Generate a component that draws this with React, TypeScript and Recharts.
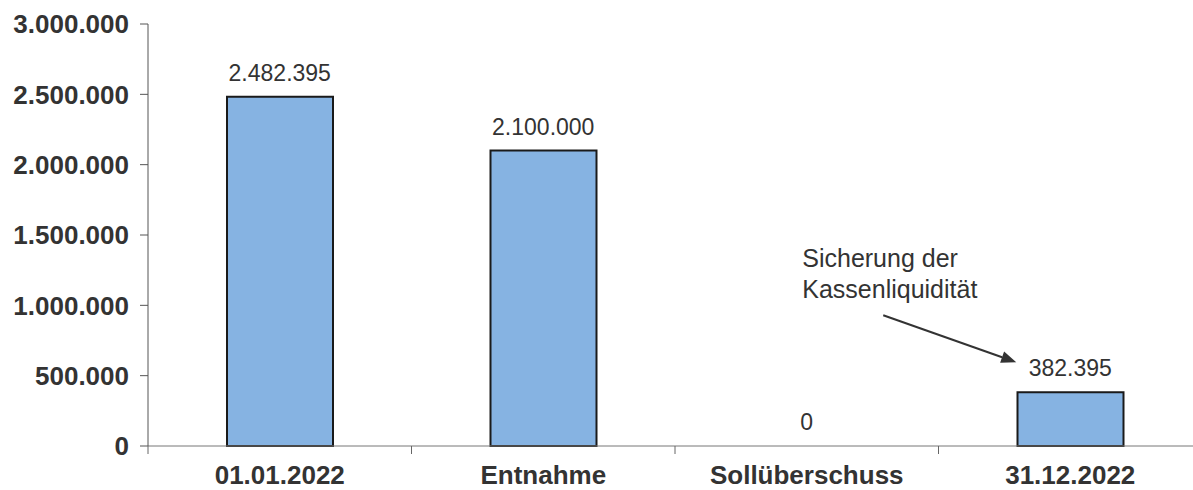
import { Bar, ComposedChart, LabelList, Line, XAxis, YAxis } from 'recharts'

const categories = ['01.01.2022', 'Entnahme', 'Sollüberschuss', '31.12.2022']
const amounts = [2482395, 2100000, 0, 382395]
const yTicks = [0, 500000, 1000000, 1500000, 2000000, 2500000, 3000000]
const noteLines = ['Sicherung der', 'Kassenliquidität']

const data = categories.map((name, i) => ({ name, value: amounts[i], idx: i + 1 }))

const CHART_W = 1202
const CHART_H = 490
const Y_AXIS_W = 148
const BAR_W = 106
const BAND = (CHART_W - Y_AXIS_W) / categories.length
const FONT = '"Liberation Sans", Arial, sans-serif'

function formatDe(v: number): string {
  return String(Math.round(v)).replace(/\B(?=(\d{3})+(?!\d))/g, '.')
}

function CategoryTick(props: any) {
  const { x, y, payload } = props
  return (
    <g>
      <line x1={x - BAND / 2} y1={y - 8} x2={x - BAND / 2} y2={y} stroke="#666" strokeWidth={1} />
      <text
        x={x}
        y={y + 30}
        textAnchor="middle"
        fontFamily={FONT}
        fontWeight="bold"
        fontSize={26}
        fill="#333"
      >
        {payload.value}
      </text>
    </g>
  )
}

// labels hang off an invisible line so the zero bar gets one too
function ValueLabel(props: any) {
  const { x, y, value } = props
  const i = Number(value) - 1
  const label = (
    <text x={x} y={y - 16} textAnchor="middle" fontFamily={FONT} fontSize={23} fill="#333">
      {formatDe(amounts[i])}
    </text>
  )
  if (i !== categories.length - 1) return label

  const left = x - BAR_W / 2
  const tip = { x: left - 1, y: y - 30 }
  const start = { x: left - 134, y: y - 77 }
  const dx = tip.x - start.x
  const dy = tip.y - start.y
  const len = Math.sqrt(dx * dx + dy * dy)
  const ux = dx / len
  const uy = dy / len
  const bx = tip.x - 15 * ux
  const by = tip.y - 15 * uy
  const head = `${tip.x},${tip.y} ${bx - 6 * uy},${by + 6 * ux} ${bx + 6 * uy},${by - 6 * ux}`
  return (
    <g>
      {label}
      <line x1={start.x} y1={start.y} x2={bx} y2={by} stroke="#333" strokeWidth={2} />
      <polygon points={head} fill="#333" />
      {noteLines.map((t, k) => (
        <text key={t} x={left - 215} y={y - 125 + k * 31} fontFamily={FONT} fontSize={25} fill="#333">
          {t}
        </text>
      ))}
    </g>
  )
}

export default function App() {
  return (
    <div
      style={{
        position: 'fixed',
        left: 0,
        top: 0,
        width: 1193,
        height: 490,
        overflow: 'hidden',
        background: '#fff',
      }}
    >
      <ComposedChart
        width={CHART_W}
        height={CHART_H}
        data={data}
        margin={{ top: 24, right: 0, left: 0, bottom: 0 }}
      >
        <XAxis
          dataKey="name"
          height={44}
          axisLine={{ stroke: '#777', strokeWidth: 1 }}
          tickLine={false}
          tick={<CategoryTick />}
          interval={0}
        />
        <YAxis
          width={Y_AXIS_W}
          domain={[0, 3000000]}
          ticks={yTicks}
          interval={0}
          tickFormatter={formatDe}
          axisLine={{ stroke: '#555', strokeWidth: 1 }}
          tickLine={{ stroke: '#555' }}
          tickSize={8}
          tickMargin={11}
          tick={{ fontFamily: FONT, fontWeight: 'bold', fontSize: 26, fill: '#333' }}
        />
        <Bar
          dataKey="value"
          barSize={BAR_W}
          fill="#86b3e2"
          stroke="#1a1a1a"
          strokeWidth={2}
          isAnimationActive={false}
        />
        <Line
          dataKey="value"
          stroke="none"
          dot={false}
          activeDot={false}
          legendType="none"
          isAnimationActive={false}
        >
          <LabelList dataKey="idx" content={<ValueLabel />} />
        </Line>
      </ComposedChart>
    </div>
  )
}
